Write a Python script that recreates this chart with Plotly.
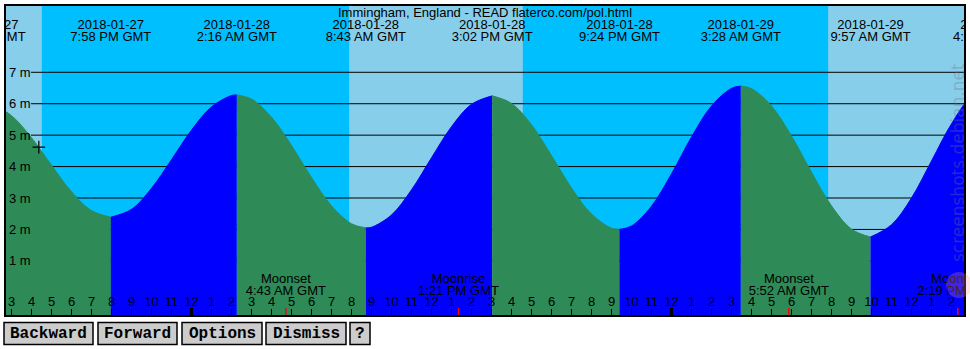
import plotly.graph_objects as go
import pandas as pd

# ---------------- data ----------------
station = "Immingham, England - READ flaterco.com/pol.html"

# tide extremes (GMT) and heights in metres
ext_times = ["2018-01-27 13:41", "2018-01-27 19:58", "2018-01-28 02:16",
             "2018-01-28 08:43", "2018-01-28 15:02", "2018-01-28 21:24",
             "2018-01-29 03:28", "2018-01-29 09:57", "2018-01-29 16:06"]
ext_heights = [6.00, 2.39, 6.28, 2.05, 6.25, 2.00, 6.56, 1.76, 6.60]

# hourly tide heights (m), starting 2018-01-27 14:00
hourly_start = "2018-01-27 14:00"
hourly_heights = [5.98, 5.62, 4.92, 4.04, 3.20, 2.60, 2.39, 2.64, 3.31, 4.22,
                  5.16, 5.90, 6.26, 6.15, 5.57, 4.67, 3.65, 2.75, 2.18, 2.07,
                  2.46, 3.26, 4.28, 5.27, 5.98, 6.25, 6.01, 5.33, 4.35, 3.32,
                  2.49, 2.04, 2.11, 2.74, 3.77, 4.94, 5.93, 6.49, 6.48, 5.93,
                  4.97, 3.82, 2.75, 2.01, 1.76, 2.15, 3.00, 4.18, 5.36, 6.24]

# sun events (daylight is light sky blue)
sunsets = ["2018-01-27 16:31", "2018-01-28 16:34"]
sunrises = ["2018-01-28 07:53", "2018-01-29 07:50"]

# moon events
moon_times = ["2018-01-28 04:43", "2018-01-28 13:21", "2018-01-29 05:52", "2018-01-29 14:19"]
moon_names = ["Moonset", "Moonrise", "Moonset", "Moonrise"]

# current-time mark
now_time = "2018-01-27 16:22"
now_height = 4.62

depth_levels = [1, 2, 3, 4, 5, 6, 7]
midnights = ["2018-01-28 00:00", "2018-01-29 00:00"]

view_start = "2018-01-27 14:40:30"
view_end = "2018-01-29 14:40:30"

buttons = ["Backward", "Forward", "Options", "Dismiss", "?"]
button_px = [(4, 93), (98, 177), (182, 262), (266, 346), (350, 370)]

# ---------------- styles ----------------
NIGHT = "#00BFFF"
DAY = "#87CEEB"
FALL = "#2E8B57"
RISE = "#0000FF"
FONT = "Liberation Sans, Arial, sans-serif"

W, H = 970, 349
L, R, T, B = 5, 5, 5, 33
PW, PH = W - L - R, H - T - B


def px_x(px):
    return (px - L) / PW


def px_y(py):
    return (H - B - py) / PH


Y0, Y1 = -0.754, 9.141

fig = go.Figure()

ext_ts = pd.to_datetime(ext_times)
hour_ts = pd.date_range(hourly_start, periods=len(hourly_heights), freq="h")
gap = pd.Timedelta(minutes=6)

for i in range(len(ext_ts) - 1):
    a, b = ext_ts[i], ext_ts[i + 1]
    xs, ys = [a], [ext_heights[i]]
    for t, h in zip(hour_ts, hourly_heights):
        if a + gap < t < b - gap:
            xs.append(t)
            ys.append(h)
    xs.append(b)
    ys.append(ext_heights[i + 1])
    color = FALL if ext_heights[i] > ext_heights[i + 1] else RISE
    fig.add_trace(go.Scatter(x=[a, b], y=[-3, -3], mode="lines",
                             line=dict(width=0, color=color),
                             hoverinfo="skip", showlegend=False))
    fig.add_trace(go.Scatter(x=xs, y=ys, mode="lines",
                             line=dict(shape="spline", width=1, color=color),
                             fill="tonexty", fillcolor=color,
                             hoverinfo="skip", showlegend=False))

# current time mark
fig.add_trace(go.Scatter(x=[now_time], y=[now_height], mode="markers",
                         marker=dict(symbol="cross-thin", size=9,
                                     line=dict(width=1.2, color="black")),
                         hoverinfo="skip", showlegend=False))

# tide event labels
date_txt = [t.strftime("%Y-%m-%d") for t in ext_ts]
time_txt = [t.strftime("%-I:%M %p GMT") for t in ext_ts]
fig.add_trace(go.Scatter(x=ext_ts, y=[8.47] * len(ext_ts), mode="text", text=date_txt,
                         textfont=dict(family=FONT, size=13, color="black"),
                         cliponaxis=True, hoverinfo="skip", showlegend=False))
fig.add_trace(go.Scatter(x=ext_ts, y=[8.09] * len(ext_ts), mode="text", text=time_txt,
                         textfont=dict(family=FONT, size=13, color="black"),
                         cliponaxis=True, hoverinfo="skip", showlegend=False))

# moon labels
moon_ts = pd.to_datetime(moon_times)
fig.add_trace(go.Scatter(x=moon_ts, y=[0.41] * len(moon_ts), mode="text", text=moon_names,
                         textfont=dict(family=FONT, size=13, color="black"),
                         cliponaxis=True, hoverinfo="skip", showlegend=False))
fig.add_trace(go.Scatter(x=moon_ts, y=[0.02] * len(moon_ts), mode="text",
                         text=[t.strftime("%-I:%M %p GMT") for t in moon_ts],
                         textfont=dict(family=FONT, size=13, color="black"),
                         cliponaxis=True, hoverinfo="skip", showlegend=False))

shapes = []
# daylight
day_starts = [view_start] + sunrises
day_ends = sunsets + [view_end]
for s, e in zip(day_starts, day_ends):
    shapes.append(dict(type="rect", xref="x", yref="paper", x0=s, x1=e, y0=0, y1=1,
                       fillcolor=DAY, line=dict(width=0), layer="below"))
# depth lines
for d in depth_levels:
    shapes.append(dict(type="line", xref="paper", yref="y", x0=px_x(31), x1=1, y0=d, y1=d,
                       line=dict(color="black", width=1), layer="below"))
# midnight ticks
for m in midnights:
    shapes.append(dict(type="line", xref="x", yref="paper", x0=m, x1=m, y0=0, y1=8 / PH,
                       line=dict(color="black", width=3), layer="above"))
# moon ticks
for m in moon_times:
    shapes.append(dict(type="line", xref="x", yref="paper", x0=m, x1=m, y0=0, y1=8 / PH,
                       line=dict(color="red", width=1.5), layer="above"))
# border
shapes.append(dict(type="rect", xref="paper", yref="paper", x0=0, x1=1, y0=0, y1=1,
                   line=dict(color="black", width=2), fillcolor="rgba(0,0,0,0)", layer="above"))
# buttons
for (x0, x1) in button_px:
    shapes.append(dict(type="rect", xref="paper", yref="paper",
                       x0=px_x(x0), x1=px_x(x1), y0=px_y(344.5), y1=px_y(322.5),
                       fillcolor="#cccccc", line=dict(color="black", width=1.5)))
# watermark circle
shapes.append(dict(type="circle", xref="paper", yref="paper",
                   x0=px_x(946), x1=px_x(972), y0=px_y(298), y1=px_y(272),
                   fillcolor="rgba(255,140,160,0.25)", line=dict(width=0), layer="above"))

annotations = []
annotations.append(dict(text=station, xref="paper", yref="paper", x=0.5, y=px_y(12),
                        xanchor="center", yanchor="middle", showarrow=False,
                        font=dict(family=FONT, size=13, color="black")))
for d in depth_levels:
    annotations.append(dict(text=f"{d} m", xref="paper", yref="y", x=px_x(7), y=d,
                            xanchor="left", yanchor="middle", showarrow=False,
                            font=dict(family=FONT, size=13, color="black")))
for label, (x0, x1) in zip(buttons, button_px):
    annotations.append(dict(text=f"<b>{label}</b>", xref="paper", yref="paper",
                            x=px_x((x0 + x1) / 2), y=px_y(333.5),
                            xanchor="center", yanchor="middle", showarrow=False,
                            font=dict(family="Liberation Mono, Courier New, monospace",
                                      size=16, color="black")))
annotations.append(dict(text="screenshots.debian.net", xref="paper", yref="paper",
                        x=px_x(958), y=px_y(163), textangle=-90,
                        xanchor="center", yanchor="middle", showarrow=False,
                        font=dict(family="DejaVu Sans, sans-serif", size=17,
                                  color="rgba(110,110,130,0.35)")))

fig.update_layout(
    width=W, height=H,
    margin=dict(l=L, r=R, t=T, b=B),
    paper_bgcolor="white", plot_bgcolor=NIGHT,
    showlegend=False,
    shapes=shapes, annotations=annotations,
    xaxis=dict(type="date", range=[view_start, view_end],
               tick0="2018-01-28 00:00", dtick=3600000, tickformat="%-I",
               ticks="inside", ticklen=7, tickcolor="black", tickwidth=1,
               ticklabelposition="inside",
               tickfont=dict(family=FONT, size=13, color="black"),
               showgrid=False, zeroline=False, showline=False, fixedrange=True),
    yaxis=dict(range=[Y0, Y1], showticklabels=False, showgrid=False, zeroline=False,
               ticks="", showline=False, fixedrange=True),
)

fig.write_html("out.html")
